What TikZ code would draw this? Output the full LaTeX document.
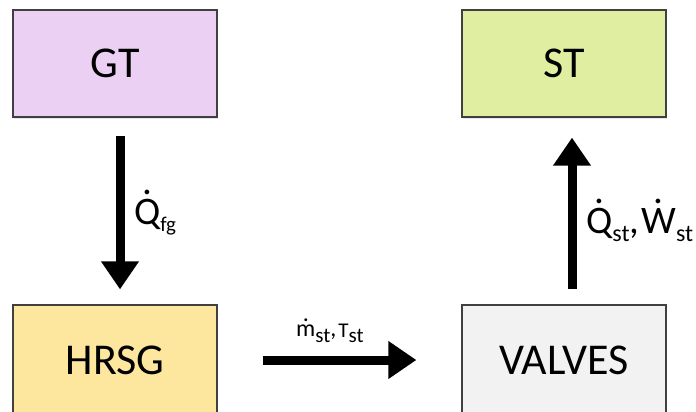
\documentclass[tikz,border=0pt]{standalone}
\usepackage{fontspec}
\setmainfont{Carlito}
\usetikzlibrary{arrows.meta,shadows}
\definecolor{gtfill}{RGB}{236,208,244}
\definecolor{stfill}{RGB}{223,238,160}
\definecolor{hrsgfill}{RGB}{253,230,157}
\definecolor{valfill}{RGB}{242,242,242}
\definecolor{boxline}{RGB}{64,64,64}
\newcommand{\dt}[2][4pt]{\leavevmode\vbox{\offinterlineskip\halign{\hfil##\hfil\cr .\cr\noalign{\kern#1}#2\cr}}}
\newcommand{\sbt}[1]{\raisebox{-7pt}{\fontsize{21}{22}\selectfont #1}}
\newcommand{\sbq}[1]{\raisebox{-8pt}{\fontsize{24}{26}\selectfont #1}}
\newcommand{\sbs}[1]{\raisebox{-6pt}{\fontsize{21}{22}\selectfont #1}}
\newcommand{\sbT}[1]{\raisebox{-1pt}{\fontsize{21}{22}\selectfont #1}}
\begin{document}
\begin{tikzpicture}[x=1pt,y=-1pt,
  blk/.style={draw=boxline,line width=1.2pt,minimum width=204pt,minimum height=107pt,inner sep=0pt,
    font=\fontsize{44}{50}\selectfont,
    drop shadow={shadow xshift=1pt,shadow yshift=-2pt,opacity=0.2}},
  bigarrow/.style={line width=9pt,-{Triangle[length=28pt,width=36pt]}},
  lbl/.style={inner sep=0pt,anchor=base west,font=\fontsize{39}{44}\selectfont},
  slbl/.style={inner sep=0pt,anchor=base west,font=\fontsize{24}{28}\selectfont}]
\useasboundingbox (0,0) rectangle (696,412);
\clip (0,0) rectangle (696,412);
\fill[white] (0,0) rectangle (696,412);
\node[blk,fill=gtfill] (GT) at (115,63.5) {GT};
\node[blk,fill=stfill] (ST) at (564,63.5) {ST};
\node[blk,fill=hrsgfill,minimum height=110pt] (HRSG) at (115,360) {HRSG};
\node[blk,fill=valfill,minimum height=110pt] (VAL) at (564,360) {VALVES};
\draw[bigarrow] ([xshift=5pt,yshift=-18pt]GT.south) -- ([xshift=5pt,yshift=15pt]HRSG.north);
\draw[bigarrow] ([xshift=8pt,yshift=15pt]VAL.north) -- ([xshift=8pt,yshift=-20pt]ST.south);
\draw[bigarrow] ([xshift=45pt]HRSG.east) -- ([xshift=-45pt]VAL.west);
\node[lbl] (qfg) at (134,224) {\dt{Q}\sbt{fg}};
\node[lbl] (qst) at (586,233) {\dt{Q}\sbq{st},\hspace{2pt}\dt{W}\sbq{st}};
\node[slbl] (mst) at (296,336) {\dt[3pt]{m}\sbs{st},\hspace{2pt}\sbT{T}\sbs{st}};
\end{tikzpicture}
\end{document}
